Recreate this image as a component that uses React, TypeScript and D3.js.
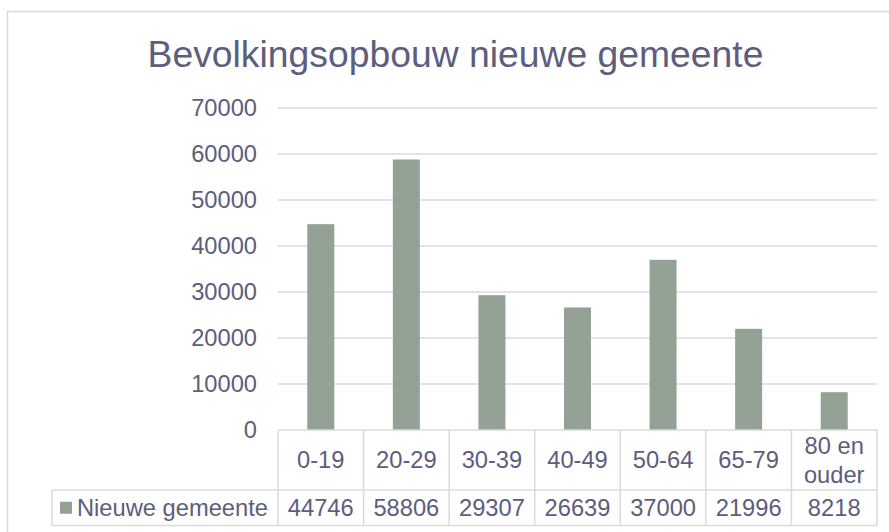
import React, { useEffect, useRef } from 'react'
import * as d3 from 'd3'

// chart data
const categories = ['0-19', '20-29', '30-39', '40-49', '50-64', '65-79', '80 en\nouder']
const seriesName = 'Nieuwe gemeente'
const values = [44746, 58806, 29307, 26639, 37000, 21996, 8218]
const yTicks = [0, 10000, 20000, 30000, 40000, 50000, 60000, 70000]
const title = 'Bevolkingsopbouw nieuwe gemeente'

const W = 889
const H = 532
const TEXT = '#5d5d7d'
const GRID = '#d9d9e0'
const BAR = '#94a296'
const FONT = '"Liberation Sans", Arial, sans-serif'
const FS = 23.7

export default function App() {
  const svgRef = useRef<SVGSVGElement | null>(null)

  useEffect(() => {
    const svg = d3.select(svgRef.current)
    svg.selectAll('*').remove()

    const plot = { left: 278, right: 877, top: 108, bottom: 430 }
    const tableRow1 = 490
    const tableBottom = 525.5
    const legendLeft = 52

    // chart frame
    svg.append('rect')
      .attr('x', 7.5).attr('y', 11.5)
      .attr('width', W).attr('height', H)
      .attr('fill', '#fff')
      .attr('stroke', GRID).attr('stroke-width', 1.5)

    svg.append('text')
      .attr('x', 455.5).attr('y', 67)
      .attr('text-anchor', 'middle')
      .attr('font-family', FONT)
      .attr('font-size', 37.3)
      .attr('fill', TEXT)
      .text(title)

    const x = d3.scaleBand().domain(categories).range([plot.left, plot.right]).paddingInner(0).paddingOuter(0)
    const y = d3.scaleLinear().domain([0, 70000]).range([plot.bottom, plot.top])

    // gridlines
    svg.append('g').selectAll('line')
      .data(yTicks.filter(t => t > 0))
      .join('line')
      .attr('x1', plot.left).attr('x2', plot.right)
      .attr('y1', d => y(d)).attr('y2', d => y(d))
      .attr('stroke', GRID).attr('stroke-width', 1.5)

    // y tick labels
    svg.append('g').selectAll('text')
      .data(yTicks)
      .join('text')
      .attr('x', 257)
      .attr('y', d => y(d))
      .attr('dy', '0.35em')
      .attr('text-anchor', 'end')
      .attr('font-family', FONT)
      .attr('font-size', FS)
      .attr('fill', TEXT)
      .text(d => d)

    // bars
    const bw = 27
    svg.append('g').selectAll('rect')
      .data(values)
      .join('rect')
      .attr('x', (d, i) => x(categories[i])! + x.bandwidth() / 2 - bw / 2)
      .attr('y', d => y(d))
      .attr('width', bw)
      .attr('height', d => plot.bottom - y(d))
      .attr('fill', BAR)

    // data table lines
    const tg = svg.append('g').attr('stroke', GRID).attr('stroke-width', 1.5)
    tg.append('line').attr('x1', plot.left).attr('x2', plot.right).attr('y1', plot.bottom).attr('y2', plot.bottom)
    tg.append('line').attr('x1', legendLeft).attr('x2', plot.right).attr('y1', tableRow1).attr('y2', tableRow1)
    tg.append('line').attr('x1', legendLeft).attr('x2', plot.right).attr('y1', tableBottom).attr('y2', tableBottom)
    tg.append('line').attr('x1', legendLeft).attr('x2', legendLeft).attr('y1', tableRow1).attr('y2', tableBottom)
    const edges = categories.map(c => x(c)!).concat([plot.right])
    tg.selectAll('line.col')
      .data(edges)
      .join('line')
      .attr('class', 'col')
      .attr('x1', d => d).attr('x2', d => d)
      .attr('y1', plot.bottom).attr('y2', tableBottom)

    // category labels
    const cg = svg.append('g')
      .attr('font-family', FONT).attr('font-size', FS).attr('fill', TEXT).attr('text-anchor', 'middle')
    categories.forEach(c => {
      const lines = c.split('\n')
      const cx = x(c)! + x.bandwidth() / 2
      const mid = (plot.bottom + tableRow1) / 2
      const lh = 29
      lines.forEach((ln, j) => {
        cg.append('text')
          .attr('x', cx)
          .attr('y', mid + (j - (lines.length - 1) / 2) * lh)
          .attr('dy', '0.35em')
          .text(ln)
      })
    })

    // values row
    const rowMid = (tableRow1 + tableBottom) / 2
    cg.selectAll('text.val')
      .data(values)
      .join('text')
      .attr('class', 'val')
      .attr('x', (d, i) => x(categories[i])! + x.bandwidth() / 2)
      .attr('y', rowMid)
      .attr('dy', '0.35em')
      .text(d => d)

    // legend key
    svg.append('rect')
      .attr('x', 60).attr('y', rowMid - 6).attr('width', 12).attr('height', 12)
      .attr('fill', BAR)
    svg.append('text')
      .attr('x', 77).attr('y', rowMid).attr('dy', '0.35em')
      .attr('font-family', FONT).attr('font-size', FS).attr('fill', TEXT)
      .text(seriesName)
  }, [])

  return (
    <svg
      ref={svgRef}
      width={W}
      height={H}
      style={{ position: 'absolute', left: 0, top: 0, background: '#fff' }}
    />
  )
}
